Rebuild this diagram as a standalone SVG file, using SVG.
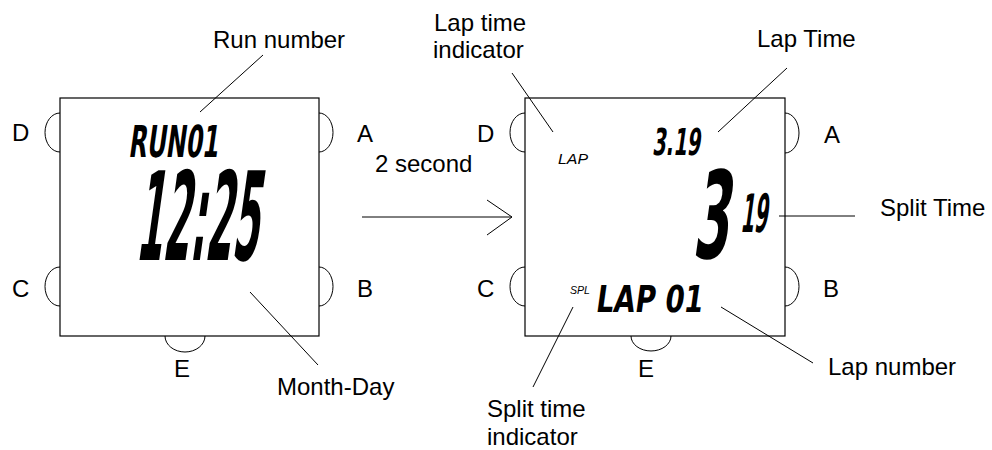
<svg xmlns="http://www.w3.org/2000/svg" width="992" height="450" viewBox="0 0 992 450">
<style>
.lbl{font-family:"Liberation Sans",Arial,sans-serif;font-size:24px;fill:#000}
.box{fill:#fff;stroke:#000;stroke-width:1.2}
.btn{fill:none;stroke:#000;stroke-width:1}
.ln{fill:none;stroke:#000;stroke-width:1}
.lcd{font-family:"DejaVu Sans",sans-serif;font-weight:bold;fill:#000}
.ind{font-family:"Liberation Sans",Arial,sans-serif;font-style:italic;fill:#000}
</style>
<rect width="992" height="450" fill="#fff"/>
<g id="watch-left">
<rect class="box" x="60" y="98" width="259" height="238"/>
<path class="btn" d="M60,113 A15,19.5 0 0,0 60,152"/>
<path class="btn" d="M60,267 A15,19.5 0 0,0 60,306"/>
<path class="btn" d="M319,113 A14,19.5 0 0,1 319,152"/>
<path class="btn" d="M319,267 A14,19.5 0 0,1 319,306"/>
<path class="btn" d="M165,336 A20,16 0 0,0 205,336"/>
<text class="lbl" x="12" y="141">D</text>
<text class="lbl" x="12" y="297">C</text>
<text class="lbl" x="357" y="142">A</text>
<text class="lbl" x="357" y="297">B</text>
<text class="lbl" x="174" y="377">E</text>
<g transform="translate(128,157) skewX(-8)"><text class="lcd" x="0" y="0" font-size="44" textLength="90" lengthAdjust="spacingAndGlyphs">RUN01</text></g>
<g transform="translate(135,260) skewX(-8)"><text class="lcd" x="0" y="0" font-size="123" textLength="123" lengthAdjust="spacingAndGlyphs">12:25</text></g>
</g>
<g id="watch-right">
<rect class="box" x="525" y="98" width="260" height="238"/>
<path class="btn" d="M525,113 A15,19.5 0 0,0 525,152"/>
<path class="btn" d="M525,267 A15,19.5 0 0,0 525,306"/>
<path class="btn" d="M785,113 A14,20 0 0,1 785,153"/>
<path class="btn" d="M785,267 A14,19.5 0 0,1 785,306"/>
<path class="btn" d="M631,336 A20,15 0 0,0 671,336"/>
<text class="lbl" x="477" y="142">D</text>
<text class="lbl" x="477" y="297">C</text>
<text class="lbl" x="824" y="143">A</text>
<text class="lbl" x="823" y="297">B</text>
<text class="lbl" x="638" y="377">E</text>
<text class="ind" x="558" y="164" font-size="14" textLength="30" lengthAdjust="spacingAndGlyphs">LAP</text>
<text class="ind" x="570" y="294" font-size="10.5" textLength="20" lengthAdjust="spacingAndGlyphs">SPL</text>
<g transform="translate(652,155) skewX(-8)"><text class="lcd" x="0" y="0" font-size="37" textLength="48" lengthAdjust="spacingAndGlyphs">3.19</text></g>
<g transform="translate(692,258) skewX(-8)"><text class="lcd" x="0" y="0" font-size="121" textLength="36" lengthAdjust="spacingAndGlyphs">3</text></g>
<g transform="translate(740,232) skewX(-8)"><text class="lcd" x="0" y="0" font-size="53" textLength="27" lengthAdjust="spacingAndGlyphs">19</text></g>
<g transform="translate(595,312) skewX(-8)"><text class="lcd" x="0" y="0" font-size="37" textLength="107" lengthAdjust="spacingAndGlyphs">LAP 01</text></g>
</g>
<g id="label-run-number"><text class="lbl" x="213" y="48">Run number</text></g>
<g id="label-month-day"><text class="lbl" x="277" y="395">Month-Day</text></g>
<g id="label-2-second"><text class="lbl" x="375" y="172">2 second</text></g>
<g id="label-lap-time-indicator"><text class="lbl" x="434" y="31">Lap time</text><text class="lbl" x="433" y="58">indicator</text></g>
<g id="label-lap-time"><text class="lbl" x="757" y="47">Lap Time</text></g>
<g id="label-split-time"><text class="lbl" x="880" y="216">Split Time</text></g>
<g id="label-lap-number"><text class="lbl" x="828" y="375">Lap number</text></g>
<g id="label-split-time-indicator"><text class="lbl" x="487" y="417">Split time</text><text class="lbl" x="487" y="445">indicator</text></g>
<g id="connectors">
<line class="ln" x1="263" y1="55" x2="200" y2="112"/>
<line class="ln" x1="250" y1="292" x2="318" y2="365"/>
<line class="ln" x1="512" y1="73" x2="553" y2="132"/>
<line class="ln" x1="787" y1="68" x2="718" y2="132"/>
<line class="ln" x1="779" y1="216" x2="855" y2="216"/>
<line class="ln" x1="721" y1="307" x2="813" y2="363"/>
<line class="ln" x1="573" y1="307" x2="533" y2="387"/>
<line class="ln" x1="362" y1="217" x2="512" y2="217"/>
<polyline class="ln" points="487,200 512,217 487,235"/>
</g>
</svg>
